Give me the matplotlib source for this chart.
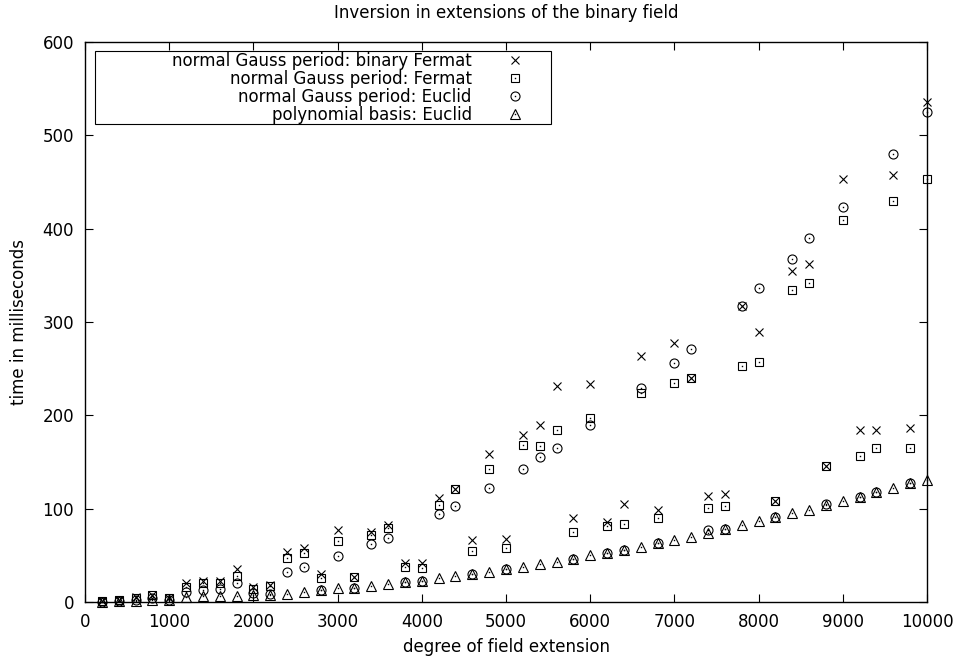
import matplotlib
matplotlib.use("Agg")
import matplotlib.pyplot as plt
from matplotlib.patches import Rectangle

# degree of field extension
degree = [200, 400, 600, 800, 1000, 1200, 1400, 1600, 1800, 2000,
          2200, 2400, 2600, 2800, 3000, 3200, 3400, 3600, 3800, 4000,
          4200, 4400, 4600, 4800, 5000, 5200, 5400, 5600, 5800, 6000,
          6200, 6400, 6600, 6800, 7000, 7200, 7400, 7600, 7800, 8000,
          8200, 8400, 8600, 8800, 9000, 9200, 9400, 9600, 9800, 10000]

# time in milliseconds
ngp_binary_fermat = [1, 2, 5, 8, 4, 20, 23, 22, 35, 16,
                     18, 54, 58, 30, 77, 27, 75, 83, 42, 42,
                     111, 121, 66, 159, 67, 179, 190, 231, 90, 234,
                     86, 105, 264, 99, 278, 240, 114, 116, 317, 289,
                     108, 355, 362, 146, 453, 184, 184, 457, 186, 536]
ngp_fermat = [1, 2, 4, 7, 4, 16, 20, 20, 28, 14,
              17, 47, 53, 26, 65, 27, 72, 79, 37, 36,
              104, 121, 55, 142, 58, 168, 167, 184, 75, 197,
              81, 84, 224, 90, 235, 240, 101, 103, 253, 257,
              108, 334, 342, 146, 409, 156, 165, 430, 165, 453]
ngp_euclid = [0.5, 1, 2, 4, 2, 11, 13, 14, 20, 10,
              9, 32, 37, 13, 49, 15, 62, 69, 21, 23,
              94, 103, 30, 122, 35, 142, 155, 165, 46, 190,
              53, 56, 229, 63, 256, 271, 77, 78, 317, 336,
              91, 368, 390, 105, 423, 113, 118, 480, 128, 525]
poly_euclid = [0.3, 0.7, 1.5, 2, 2, 5, 6, 6, 6.5, 8,
               8, 9, 11, 13, 15, 15, 17, 19, 21, 23,
               26, 28, 30, 32, 35, 38, 41, 43, 46, 50,
               53, 56, 59, 63, 66, 70, 74, 78, 82, 87,
               91, 95, 99, 104, 108, 113, 118, 122, 128, 131]

labels = ["normal Gauss period: binary Fermat",
          "normal Gauss period: Fermat",
          "normal Gauss period: Euclid",
          "polynomial basis: Euclid"]

plt.rcParams['font.family'] = ['DejaVu Sans']
plt.rcParams['font.size'] = 12

fig = plt.figure(figsize=(9.56, 6.6), dpi=100)
ax = fig.add_axes([85 / 956, 1 - 602 / 660, 842 / 956, 560 / 660])

series = [(ngp_binary_fermat, 'x', 6.0, False),
          (ngp_fermat, 's', 5.8, True),
          (ngp_euclid, 'o', 6.5, True),
          (poly_euclid, '^', 6.5, True)]

handles = []
for values, marker, size, dotted in series:
    h, = ax.plot(degree, values, linestyle='none', marker=marker, ms=size,
                 mfc='none', mec='black', mew=0.8, clip_on=False, zorder=3)
    if dotted:
        d, = ax.plot(degree, values, linestyle='none', marker='s', ms=1.0,
                     mfc='black', mec='black', mew=0, clip_on=False, zorder=3)
        handles.append((h, d))
    else:
        handles.append(h)

ax.set_xlim(0, 10000)
ax.set_ylim(0, 600)
ax.set_xticks([0, 1000, 2000, 3000, 4000, 5000, 6000, 7000, 8000, 9000, 10000])
ax.set_yticks([0, 100, 200, 300, 400, 500, 600])
ax.tick_params(direction='in', top=True, right=True, length=6, width=0.8, pad=8)
for s in ax.spines.values():
    s.set_linewidth(1.0)

ax.set_title("Inversion in extensions of the binary field", fontsize=12, pad=17)
ax.set_xlabel("degree of field extension", labelpad=5)
ax.set_ylabel("time in milliseconds", labelpad=10)

leg = ax.legend(handles, labels, markerfirst=False, frameon=False,
                loc='upper right', bbox_to_anchor=((525 - 85) / 842, (602 - 52) / 560),
                borderpad=0, borderaxespad=0, handlelength=1.2,
                handletextpad=2.0, labelspacing=0.0, numpoints=1)
ax.add_patch(Rectangle((10 / 842, (602 - 124) / 560), 456 / 842, 73 / 560,
                       transform=ax.transAxes, fill=False, lw=0.8,
                       edgecolor='black', zorder=4))

plt.savefig('out.png', dpi=100)
plt.close()
